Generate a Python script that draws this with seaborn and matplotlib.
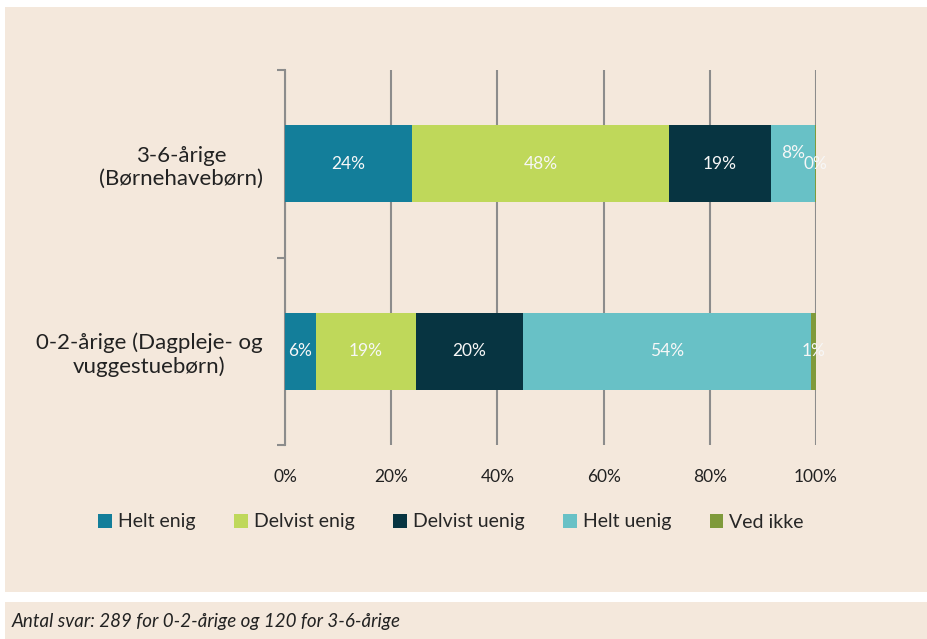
import matplotlib
matplotlib.use("Agg")
import matplotlib.pyplot as plt
from matplotlib.patches import Rectangle, Patch
import numpy as np
import pandas as pd
import seaborn as sns

# data (percent of respondents)
groups = ["3-6-årige\n(Børnehavebørn)", "0-2-årige (Dagpleje- og\nvuggestuebørn)"]
answers = ["Helt enig", "Delvist enig", "Delvist uenig", "Helt uenig", "Ved ikke"]
helt_enig = [23.9, 5.8]
delvist_enig = [48.4, 18.9]
delvist_uenig = [19.2, 20.1]
helt_uenig = [8.4, 54.3]
ved_ikke = [0.1, 0.9]
x_ticks = [0, 20, 40, 60, 80, 100]
footnote = "Antal svar: 289 for 0-2-årige og 120 for 3-6-årige"

colors = ["#137e9a", "#bfd85a", "#073441", "#68c1c6", "#7f9a3b"]
bg = "#f4e8dc"
grid_col = "#8c8c8c"

sns.set_style("white")
plt.rcParams["font.family"] = ["Lato", "DejaVu Sans"]

df = pd.DataFrame({"group": groups, "Helt enig": helt_enig, "Delvist enig": delvist_enig,
                   "Delvist uenig": delvist_uenig, "Helt uenig": helt_uenig, "Ved ikke": ved_ikke})
cum = df[answers].cumsum(axis=1)

fig = plt.figure(figsize=(9.28, 6.39), dpi=100)
fig.patch.set_facecolor("white")
fig.patches.append(Rectangle((5 / 928, 1 - 592 / 639), 1, (592 - 7) / 639,
                             transform=fig.transFigure, facecolor=bg, edgecolor="none", zorder=-10))
fig.patches.append(Rectangle((5 / 928, 0), 1, (639 - 602) / 639,
                             transform=fig.transFigure, facecolor=bg, edgecolor="none", zorder=-10))

ax = fig.add_axes([285 / 928, 1 - 445 / 639, 531 / 928, 375 / 639])
ax.set_facecolor("none")

# stacked bars: draw cumulative widths from last to first
for i in range(len(answers) - 1, -1, -1):
    sns.barplot(x=cum[answers[i]], y=df["group"], orient="h", color=colors[i],
                width=0.41, ax=ax, saturation=1, edgecolor="none", zorder=3)

# value labels
for j in range(len(groups)):
    left = 0
    for i, a in enumerate(answers):
        v = df[a][j]
        xc = left + v / 2
        dy = -0.06 if (a == "Helt uenig" and v < 10) else 0
        ax.text(xc, j + dy, f"{v:.0f}%", ha="center", va="center", color="#f7f7f7",
                fontsize=12.5, zorder=5)
        left += v

ax.set_xlim(0, 100)
ax.set_ylim(1.5, -0.5)
ax.set_xticks(x_ticks)
ax.set_xticklabels([f"{t}%" for t in x_ticks], fontsize=12.5, color="#222222")
ax.set_yticks([0, 1])
ax.set_yticklabels(groups, fontsize=16, color="#222222", multialignment="center",
                   linespacing=1.2)
ax.set_yticks([-0.5, 0.5, 1.5], minor=True)
ax.tick_params(axis="y", which="major", left=False, length=0, pad=16)
ax.tick_params(axis="y", which="minor", left=True, length=6, width=1.5, color=grid_col)
ax.tick_params(axis="x", length=0, pad=17)
ax.set_xlabel("")
ax.set_ylabel("")

ax.grid(axis="x", color=grid_col, linewidth=1.5, zorder=0)
ax.set_axisbelow(True)
for s in ["top", "right", "bottom"]:
    ax.spines[s].set_visible(False)
ax.spines["left"].set_color(grid_col)
ax.spines["left"].set_linewidth(1.5)

handles = [Patch(facecolor=c, edgecolor="none") for c in colors]
fig.legend(handles, answers, loc="center", bbox_to_anchor=(0.486, 1 - 522 / 639), ncol=5,
           frameon=False, fontsize=14, handlelength=0.7, handleheight=0.7,
           handletextpad=0.3, columnspacing=2.0)

fig.text(12 / 928, 1 - 621 / 639, footnote, style="italic", fontsize=13.5,
         va="center", ha="left", color="#222222")

fig.savefig("out.png", dpi=100, facecolor=fig.get_facecolor())
